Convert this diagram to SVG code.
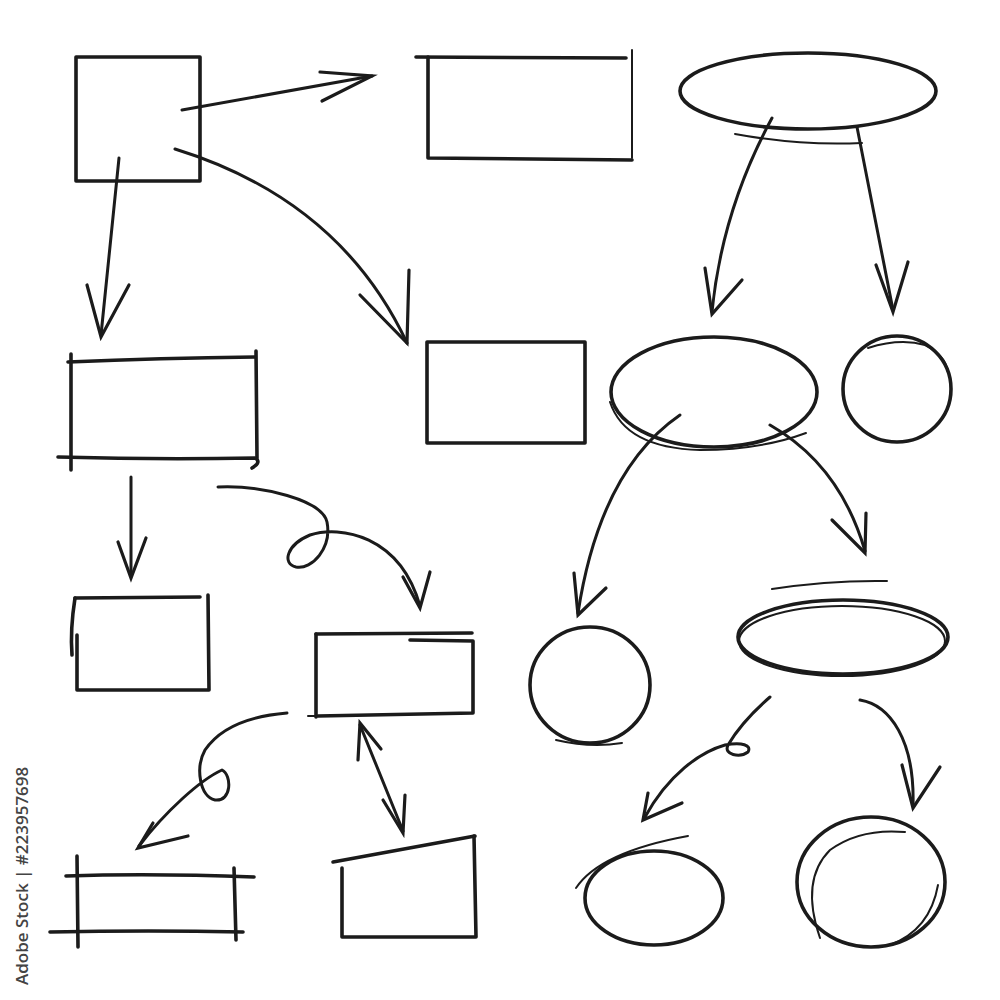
<svg xmlns="http://www.w3.org/2000/svg" width="1000" height="1000" viewBox="0 0 1000 1000">
<style>
.s{fill:none;stroke:#1b1b1b;stroke-width:3.6;stroke-linecap:round;stroke-linejoin:round}
.t{fill:none;stroke:#1b1b1b;stroke-width:2;stroke-linecap:round}
.c{fill:none;stroke:#1b1b1b;stroke-width:3;stroke-linecap:round;stroke-linejoin:round}
.h{fill:none;stroke:#1b1b1b;stroke-width:3.2;stroke-linecap:round;stroke-linejoin:miter}
.wm{font-family:"Open Sans","Liberation Sans",sans-serif;font-size:17px;font-weight:600;fill:#444}
</style>
<rect width="1000" height="1000" fill="#fff"/>
<g id="n1"><path class="s" d="M76,57 L200,57 L200,181 L76,181 Z"/></g>
<g id="n2"><path class="s" d="M416,57 L626,58"/><path class="t" d="M632,50 L632,158"/><path class="s" d="M428,57 L428,158 L632,160"/></g>
<g id="n3"><ellipse class="s" cx="808" cy="91" rx="128" ry="38"/><path class="t" d="M735,134 Q800,146 862,143"/></g>
<g id="n4"><path class="s" d="M68,362 Q160,358 255,357"/><path class="s" d="M71,354 L71,470"/><path class="s" d="M256,351 L257,458"/><path class="s" d="M58,457 Q160,460 255,458 Q262,462 252,468"/></g>
<g id="n5"><path class="s" d="M427,342 L585,342 L585,443 L427,443 Z"/></g>
<g id="n6"><ellipse class="s" cx="714" cy="392" rx="103" ry="55"/><path class="t" d="M610,402 Q625,448 700,450 Q760,450 806,433"/></g>
<g id="n7"><ellipse class="s" cx="897" cy="389" rx="54" ry="53"/><path class="t" d="M868,348 Q900,338 925,345 Q945,355 948,372"/></g>
<g id="n8"><path class="s" d="M75,598 L200,597"/><path class="s" d="M75,598 Q70,630 72,655"/><path class="s" d="M77,635 L77,690 L209,690 L208,595"/></g>
<g id="n9"><path class="s" d="M316,634 L472,633"/><path class="s" d="M410,640 L473,641 L473,713 L318,716"/><path class="s" d="M316,634 L316,717"/><path class="t" d="M308,716 L330,716"/></g>
<g id="n10"><ellipse class="s" cx="590" cy="685" rx="60" ry="58"/><path class="t" d="M556,740 Q590,748 622,743"/></g>
<g id="n11"><ellipse class="s" cx="843" cy="637" rx="105" ry="37"/><ellipse class="t" cx="842" cy="641" rx="103" ry="35"/><path class="t" d="M772,589 Q830,580 887,581"/></g>
<g id="n12"><path class="s" d="M66,876 Q150,873 254,877"/><path class="s" d="M50,932 Q150,930 243,932"/><path class="s" d="M77,856 L78,947"/><path class="s" d="M234,868 L236,940"/></g>
<g id="n13"><path class="s" d="M333,862 L475,836"/><path class="s" d="M342,868 L342,937 L476,937 L474,836"/></g>
<g id="n14"><ellipse class="s" cx="654" cy="898" rx="69" ry="47"/><path class="t" d="M576,888 Q600,852 688,836"/></g>
<g id="n15"><ellipse class="s" cx="871" cy="882" rx="74" ry="65"/><path class="t" d="M820,938 Q800,880 830,850 Q860,828 905,832"/><path class="t" d="M938,885 Q930,930 890,945"/></g>
<g id="connectors">
<path class="c" d="M182,110 L372,76"/><path class="h" d="M320,72 L372,76 L322,101"/>
<path class="c" d="M119,158 L101,335"/><path class="h" d="M87,285 L101,337 L129,285"/>
<path class="c" d="M175,149 Q340,200 407,343"/><path class="h" d="M360,295 L407,343 L409,270"/>
<path class="c" d="M772,118 Q722,210 712,312"/><path class="h" d="M705,268 L712,314 L742,280"/>
<path class="c" d="M857,127 Q875,220 893,310"/><path class="h" d="M876,265 L893,312 L908,262"/>
<path class="c" d="M680,415 Q600,470 578,613"/><path class="h" d="M574,573 L578,615 L606,588"/>
<path class="c" d="M770,425 Q840,465 865,551"/><path class="h" d="M832,520 L865,553 L866,513"/>
<path class="c" d="M131,477 L131,576"/><path class="h" d="M118,542 L131,578 L146,538"/>
<path class="c" d="M218,487 C262,485 322,500 327,522 C332,548 312,570 296,567 C282,564 286,545 310,535 C340,525 400,535 420,606"/><path class="h" d="M403,577 L420,608 L430,572"/>
<path class="c" d="M360,725 L403,831"/><path class="h" d="M358,760 L360,723 L381,749"/><path class="h" d="M383,800 L403,833 L405,795"/>
<path class="c" d="M287,713 C250,716 220,728 205,750 C195,768 200,797 215,800 C232,802 232,775 222,770 C200,780 165,812 139,846"/><path class="h" d="M153,823 L138,848 L188,836"/>
<path class="c" d="M770,697 C755,710 738,728 728,745 C723,755 740,758 748,752 C752,745 742,742 725,745 C700,752 668,775 645,817"/><path class="h" d="M648,793 L643,820 L682,803"/>
<path class="c" d="M860,700 C890,705 915,740 913,806"/><path class="h" d="M902,765 L913,808 L940,767"/>
</g>
<text class="wm" transform="translate(28,985) rotate(-90)">Adobe Stock | #223957698</text>
</svg>
